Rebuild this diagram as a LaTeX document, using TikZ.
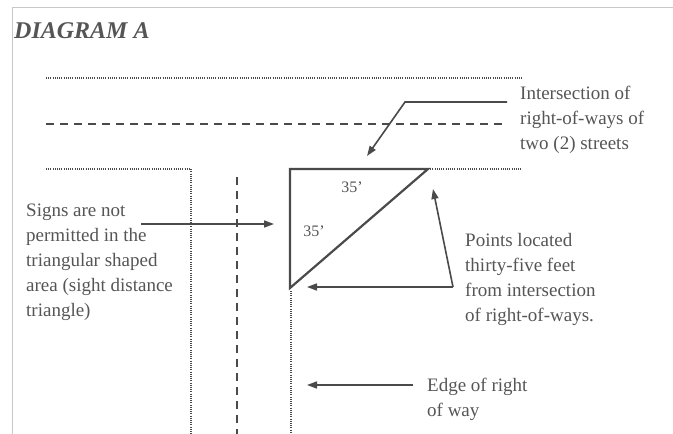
\documentclass[tikz,border=0pt]{standalone}
\usepackage{fontspec}
\setmainfont{Liberation Serif}
\usetikzlibrary{arrows.meta}
\definecolor{txtgray}{HTML}{555555}
\definecolor{lngray}{HTML}{4A4A4A}
\definecolor{framegray}{HTML}{C8C8C8}
\begin{document}
\begin{tikzpicture}[x=1pt,y=-1pt,
  lbl/.style={anchor=north west, inner sep=0pt, align=left, text=txtgray, font=\fontsize{19}{25}\selectfont},
  dimlbl/.style={inner sep=0pt, text=txtgray, font=\fontsize{16}{18}\selectfont},
  ptr/.style={draw=lngray, line width=1.6pt, -{Triangle[length=10pt,width=7pt]}},
  dotline/.style={draw=lngray, line width=1.5pt, dash pattern=on 1pt off 1.2pt},
  dashline/.style={draw=lngray, line width=1.8pt, dash pattern=on 8pt off 6pt},
  triline/.style={draw=lngray, line width=2.2pt, line join=miter}]
\useasboundingbox (0,0) rectangle (673,434);
% frame
\draw[framegray, line width=1pt] (12,434) -- (12,7) -- (673,7);
% title
\node[anchor=base west, inner sep=0pt, text=txtgray, font=\fontsize{24}{28}\selectfont\bfseries\itshape] (title) at (14,38) {DIAGRAM A};
% street lines
\coordinate (d1a) at (46,78); \coordinate (d1b) at (522,78);
\draw[dotline] (d1a) -- (d1b);
\coordinate (dsa) at (46,124); \coordinate (dsb) at (505,124);
\draw[dashline] (dsa) -- (dsb);
\coordinate (d2a) at (46,169); \coordinate (d2c) at (191,169); \coordinate (d2d) at (191,434);
\draw[dotline] (d2a) -- (d2c) -- (d2d);
\coordinate (vda) at (237,177); \coordinate (vdb) at (237,434);
\draw[dashline] (vda) -- (vdb);
% triangle
\coordinate (tA) at (290,169); \coordinate (tB) at (428,169); \coordinate (tC) at (290,288);
\draw[triline] (tA) -- (tB) -- (tC) -- cycle;
\coordinate (d3b) at (522,169);
\draw[dotline] (tB) -- (d3b);
\coordinate (d4a) at (291,291); \coordinate (d4b) at (291,434);
\draw[dotline] (d4a) -- (d4b);
\node[dimlbl] (l35a) at (352,187) {35’};
\node[dimlbl] (l35b) at (314,231) {35’};
% labels
\node[lbl] (inter) at (520,86) {Intersection of\\right-of-ways of\\two (2) streets};
\node[lbl] (signs) at (26,204) {Signs are not\\permitted in the\\triangular shaped\\area (sight distance\\triangle)};
\node[lbl] (points) at (465,233) {Points located\\thirty-five feet\\from intersection\\of right-of-ways.};
\node[lbl] (edge) at (427,378) {Edge of right\\of way};
% pointers
\coordinate (ia) at (507,102); \coordinate (ib) at (405,102); \coordinate (ic) at (367,156);
\draw[ptr] (ia) -- (ib) -- (ic);
\coordinate (sa) at (141,224); \coordinate (sb) at (274,224);
\draw[ptr] (sa) -- (sb);
\coordinate (pa) at (453,287); \coordinate (pb) at (433,189); \coordinate (pc) at (307,287);
\draw[ptr] (pa) -- (pb);
\draw[ptr] (pa) -- (pc);
\coordinate (ea) at (413,385); \coordinate (eb) at (307,385);
\draw[ptr] (ea) -- (eb);
\end{tikzpicture}
\end{document}
